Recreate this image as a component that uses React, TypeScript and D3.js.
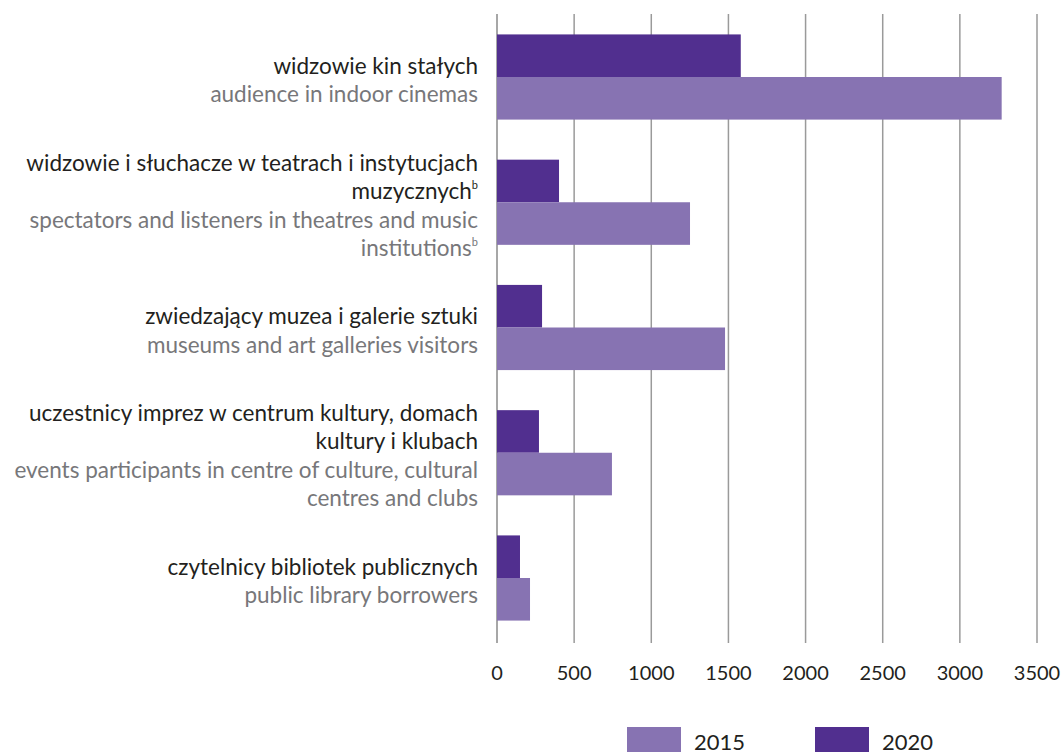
import React from "react";
import * as d3 from "d3";

const categories = ["kino", "teatr", "muzea", "kultura", "biblioteki"];
const labelsPL: string[][] = [
  ["widzowie kin stałych"],
  ["widzowie i słuchacze w teatrach i instytucjach", "muzycznych|b"],
  ["zwiedzający muzea i galerie sztuki"],
  ["uczestnicy imprez w centrum kultury, domach", "kultury i klubach"],
  ["czytelnicy bibliotek publicznych"],
];
const labelsEN: string[][] = [
  ["audience in indoor cinemas"],
  ["spectators and listeners in theatres and music", "institutions|b"],
  ["museums and art galleries visitors"],
  ["events participants in centre of culture, cultural", "centres and clubs"],
  ["public library borrowers"],
];
const values2020 = [1580, 402, 292, 272, 149];
const values2015 = [3271, 1251, 1478, 745, 214];
const ticks = [0, 500, 1000, 1500, 2000, 2500, 3000, 3500];
const seriesNames = ["2015", "2020"];

const COL2015 = "#8773b2";
const COL2020 = "#512f8f";
const FONT = "Lato, 'Open Sans', sans-serif";

export default function App() {
  const W = 1064, H = 752;
  const x = d3.scaleLinear().domain([0, 3500]).range([497, 1037]);
  const yTop = 14, yBot = 643;
  const y = d3.scaleBand().domain(categories).range([yTop, yBot]).paddingInner(0.32).paddingOuter(0.171);
  const half = y.bandwidth() / 2;
  const lineH = 28.5;

  const renderLine = (s: string, key: string, yy: number, color: string) => {
    const [main, sup] = s.split("|");
    return (
      <text key={key} x={478} y={yy} textAnchor="end" fill={color} fontSize={22.5} fontFamily={FONT}>
        {main}
        {sup && (
          <tspan fontSize={11} dy={-10}>{sup}</tspan>
        )}
      </text>
    );
  };

  return (
    <svg width={W} height={H} style={{ position: "absolute", left: 0, top: 0, background: "#fff" }}>
      {ticks.map((t) => (
        <line key={"g" + t} x1={x(t)} x2={x(t)} y1={yTop} y2={yBot} stroke={t === 0 ? "#8a8a8a" : "#9a9a9a"} strokeWidth={1.5} />
      ))}
      {categories.map((c, i) => {
        const y0 = y(c)!;
        return (
          <g key={c}>
            <rect x={x(0)} y={y0 - 1} width={x(values2020[i]) - x(0)} height={half} fill={COL2020} />
            <rect x={x(0)} y={y0 - 1 + half} width={x(values2015[i]) - x(0)} height={half} fill={COL2015} />
          </g>
        );
      })}
      {categories.map((c, i) => {
        const lines = [
          ...labelsPL[i].map((s) => ({ s, color: "#231f20" })),
          ...labelsEN[i].map((s) => ({ s, color: "#77777a" })),
        ];
        const center = y(c)! + half + 10;
        const n = lines.length;
        return (
          <g key={"l" + c}>
            {lines.map((l, j) => renderLine(l.s, c + j, center + (j - (n - 1) / 2) * lineH, l.color))}
          </g>
        );
      })}
      {ticks.map((t) => (
        <text key={"t" + t} x={x(t)} y={680} textAnchor="middle" fill="#231f20" fontSize={20} fontFamily={FONT}>
          {t}
        </text>
      ))}
      {seriesNames.map((s, i) => (
        <g key={s}>
          <rect x={627 + i * 188} y={727} width={54} height={30} fill={i === 0 ? COL2015 : COL2020} />
          <text x={694 + i * 188} y={750} fill="#231f20" fontSize={22} fontFamily={FONT}>{s}</text>
        </g>
      ))}
    </svg>
  );
}
